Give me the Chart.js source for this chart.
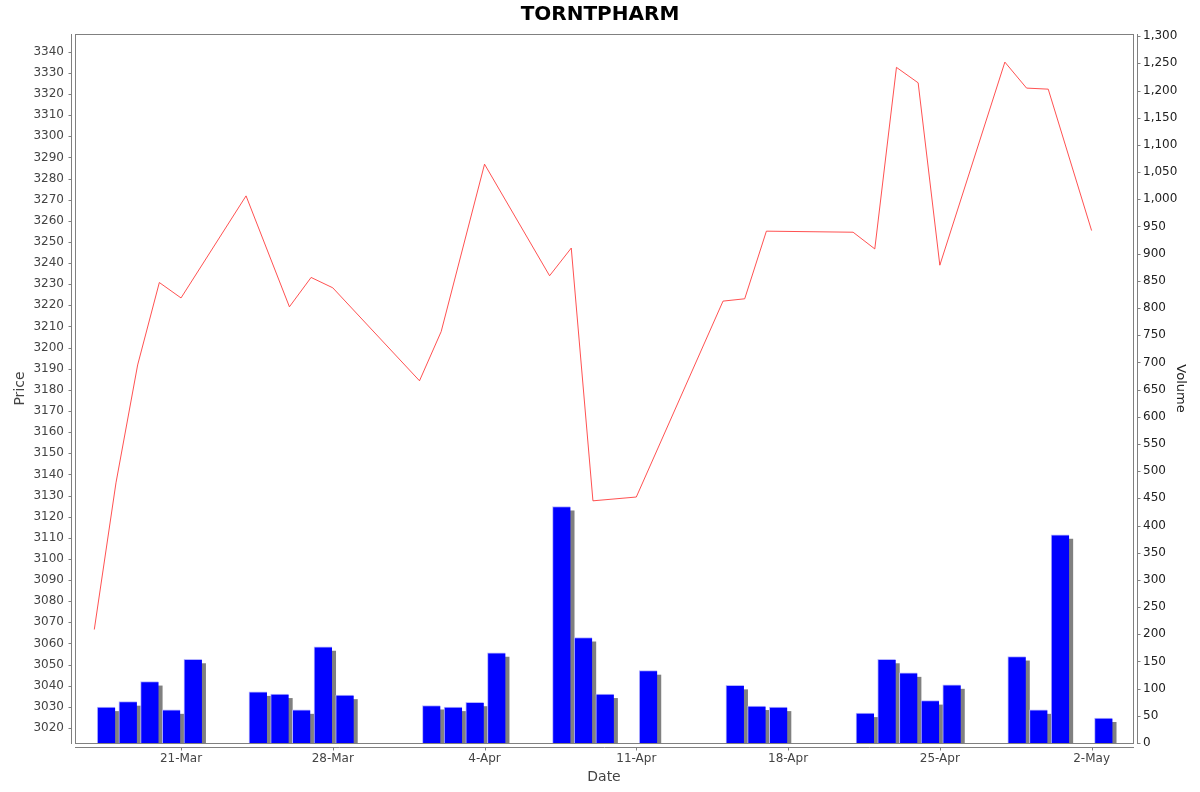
<!DOCTYPE html>
<html>
<head>
<meta charset="utf-8">
<title>TORNTPHARM</title>
<script src="https://cdn.jsdelivr.net/npm/chart.js@4.4.1/dist/chart.umd.min.js"></script>
<style>
  html, body { margin: 0; padding: 0; background: #fff; }
  #wrap { width: 1200px; height: 792px; }
</style>
</head>
<body>
<div id="wrap"><canvas id="priceChart" width="1200" height="792"></canvas></div>
<script>
// trading days shown on the chart
const dates = [
    '2025-03-17', '2025-03-18', '2025-03-19', '2025-03-20', '2025-03-21',
    '2025-03-24', '2025-03-25', '2025-03-26', '2025-03-27', '2025-03-28',
    '2025-04-01', '2025-04-02', '2025-04-03', '2025-04-04',
    '2025-04-07', '2025-04-08', '2025-04-09', '2025-04-11',
    '2025-04-15', '2025-04-16', '2025-04-17',
    '2025-04-21', '2025-04-22', '2025-04-23', '2025-04-24', '2025-04-25',
    '2025-04-28', '2025-04-29', '2025-04-30', '2025-05-02'
];
// closing price (null = no point, line just joins neighbours)
const prices = [
    3066.6, 3136, 3191.8, 3230.8, 3223.5,
    3271.8, null, 3219.3, 3233.2, 3228.3,
    3184.3, 3207.6, null, 3286.8,
    3234, 3247.1, 3127.5, 3129.3,
    3222, 3223.1, 3255.1,
    3254.6, 3246.7, 3332.6, 3325.3, 3239,
    3335.1, 3322.8, 3322.3, 3255.4
];
const volumes = [
    66, 76, 113, 61, 154,
    94, 90, 61, 177, 88,
    69, 66, 75, 166,
    435, 194, 90, 133,
    106, 68, 66,
    55, 154, 129, 78, 107,
    159, 61, 383, 46
];
const tickDates = ['2025-03-21', '2025-03-28', '2025-04-04', '2025-04-11', '2025-04-18', '2025-04-25', '2025-05-02'];
const tickLabels = ['21-Mar', '28-Mar', '4-Apr', '11-Apr', '18-Apr', '25-Apr', '2-May'];

// days counted from 21-Mar
const DAY = 86400000;
const base = Date.UTC(2025, 2, 21);
function dayOf(s) {
    const p = s.split('-');
    return (Date.UTC(+p[0], +p[1] - 1, +p[2]) - base) / DAY;
}
const barOffset = 0.55; // bars sit just right of their date

const pricePoints = dates.map((d, i) => ({ x: dayOf(d), y: prices[i] }));
const volumePoints = dates.map((d, i) => ({ x: dayOf(d) + barOffset, y: volumes[i] }));
const tickDays = tickDates.map(dayOf);

const axisGray = '#808080';

// frame, offset axis lines and bar shadows like the original
const framePlugin = {
    id: 'frame',
    beforeDatasetDraw(chart, args) {
        if (args.index !== 1) return;
        const ctx = chart.ctx;
        const a = chart.chartArea;
        ctx.save();
        ctx.beginPath();
        ctx.rect(a.left, a.top, a.right - a.left, a.bottom - a.top);
        ctx.clip();
        ctx.fillStyle = '#808080';
        args.meta.data.forEach(bar => {
            const p = bar.getProps(['x', 'y', 'base', 'width'], true);
            ctx.fillRect(p.x - p.width / 2 + 4, p.y + 4, p.width, p.base - p.y);
        });
        ctx.restore();
    },
    afterDraw(chart) {
        const ctx = chart.ctx;
        const a = chart.chartArea;
        ctx.save();
        ctx.strokeStyle = axisGray;
        ctx.lineWidth = 1;
        ctx.strokeRect(a.left + 0.5, a.top + 0.5, a.right - a.left, a.bottom - a.top);

        // left axis
        const xl = a.left - 3.5;
        ctx.beginPath();
        ctx.moveTo(xl, a.top); ctx.lineTo(xl, a.bottom + 1);
        chart.scales.y.ticks.forEach(t => {
            const py = Math.round(chart.scales.y.getPixelForValue(t.value)) + 0.5;
            ctx.moveTo(xl - 3, py); ctx.lineTo(xl, py);
        });
        // right axis
        const xr = a.right + 4.5;
        ctx.moveTo(xr, a.top); ctx.lineTo(xr, a.bottom + 1);
        chart.scales.y1.ticks.forEach(t => {
            const py = Math.round(chart.scales.y1.getPixelForValue(t.value)) + 0.5;
            ctx.moveTo(xr, py); ctx.lineTo(xr + 3, py);
        });
        // bottom axis
        const yb = a.bottom + 4.5;
        ctx.moveTo(a.left, yb); ctx.lineTo(a.right + 1, yb);
        chart.scales.x.ticks.forEach(t => {
            const px = Math.round(chart.scales.x.getPixelForValue(t.value)) + 0.5;
            ctx.moveTo(px, yb); ctx.lineTo(px, yb + 3);
        });
        ctx.stroke();
        ctx.restore();
    }
};

Chart.defaults.font.family = '"DejaVu Sans", sans-serif';
Chart.defaults.font.size = 12;

const ctx = document.getElementById('priceChart').getContext('2d');
const priceChart = new Chart(ctx, {
    type: 'bar',
    data: {
        datasets: [{
            type: 'line',
            label: 'Price',
            data: pricePoints,
            yAxisID: 'y',
            borderColor: 'rgba(255, 50, 50, 0.85)',
            borderWidth: 1,
            pointRadius: 0,
            tension: 0,
            spanGaps: true,
            order: 0
        }, {
            type: 'bar',
            label: 'Volume',
            data: volumePoints,
            yAxisID: 'y1',
            backgroundColor: '#0000ff',
            borderColor: '#b4b4ff',
            borderWidth: { left: 1, top: 1, right: 0, bottom: 0 },
            borderSkipped: false,
            barThickness: 18,
            order: 1
        }]
    },
    options: {
        responsive: false,
        animation: false,
        layout: { padding: 0 },
        plugins: {
            legend: { display: false },
            tooltip: { enabled: false },
            title: {
                display: true,
                text: 'TORNTPHARM',
                color: '#000',
                font: { size: 20, weight: 'bold' },
                padding: { top: 3, bottom: 7 }
            }
        },
        scales: {
            x: {
                type: 'linear',
                offset: false,
                min: -4.89,
                max: 43.91,
                grid: { display: false, drawTicks: false },
                border: { display: false },
                afterBuildTicks: s => { s.ticks = tickDays.map(v => ({ value: v })); },
                afterFit: s => { s.height = 49; },
                ticks: {
                    autoSkip: false,
                    maxRotation: 0,
                    padding: 9,
                    color: '#444',
                    callback: v => tickLabels[tickDays.indexOf(v)]
                },
                title: {
                    display: true,
                    text: 'Date',
                    color: '#444',
                    font: { size: 14 },
                    padding: { top: 0, bottom: 6 }
                }
            },
            y: {
                type: 'linear',
                position: 'left',
                min: 3012.9,
                max: 3348.4,
                grid: { display: false, drawTicks: false },
                border: { display: false },
                afterFit: s => { s.width = 75; },
                ticks: {
                    stepSize: 10,
                    includeBounds: false,
                    autoSkip: false,
                    padding: 11,
                    color: '#444',
                    callback: v => String(v)
                },
                title: {
                    display: true,
                    text: 'Price',
                    color: '#444',
                    font: { size: 14 },
                    padding: { top: 12, bottom: 0 }
                }
            },
            y1: {
                type: 'linear',
                position: 'right',
                min: 0,
                max: 1304,
                grid: { display: false, drawTicks: false },
                border: { display: false },
                afterFit: s => { s.width = 67; },
                ticks: {
                    stepSize: 50,
                    includeBounds: false,
                    autoSkip: false,
                    padding: 10,
                    color: '#222'
                },
                title: {
                    display: true,
                    text: 'Volume',
                    color: '#222',
                    font: { size: 13 },
                    padding: { top: 12, bottom: 0 }
                }
            }
        }
    },
    plugins: [framePlugin]
});
</script>
</body>
</html>
